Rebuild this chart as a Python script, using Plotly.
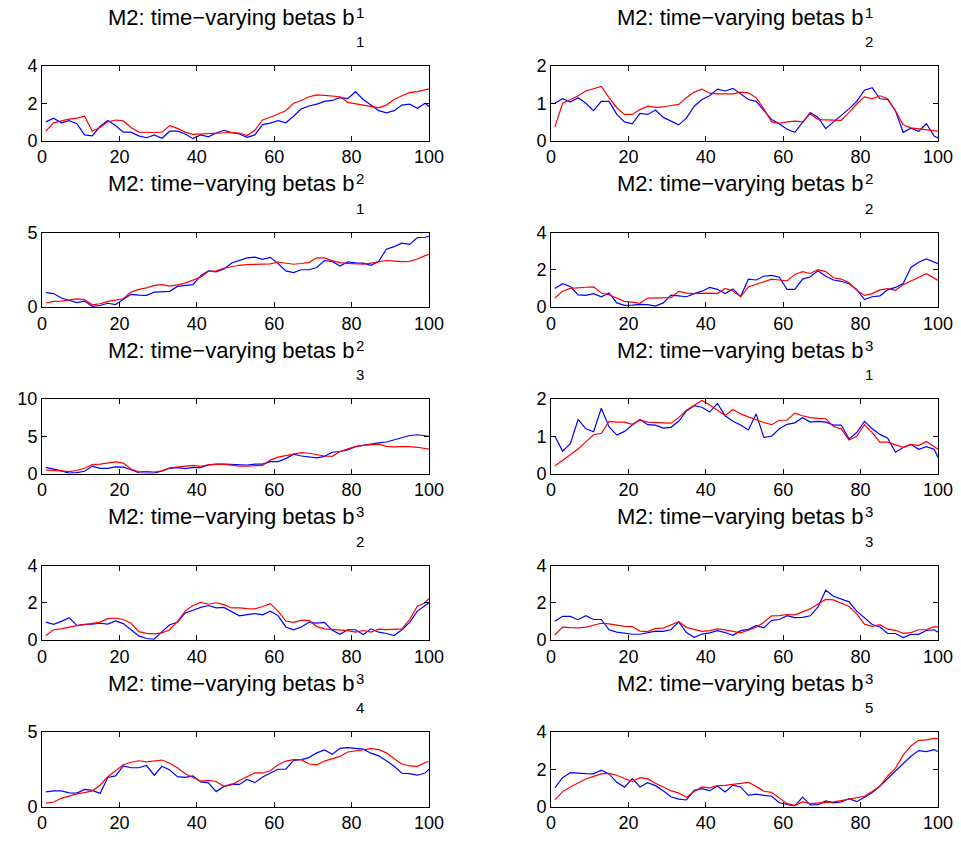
import plotly.graph_objects as go

# ---------------- data ----------------
x = list(range(1, 100, 2)) + [100]

blue_b11 = [1.0,1.2,0.95,1.07,0.9,0.3,0.25,0.75,1.07,0.8, 0.45,0.45,0.25,0.15,0.3,0.12,0.5,0.5,0.35,0.1, 0.3,0.2,0.4,0.55,0.42,0.35,0.17,0.3,0.85,0.93, 1.07,0.95,1.3,1.7,1.85,1.95,2.1,2.15,2.3,2.25, 2.62,2.2,1.9,1.6,1.48,1.6,1.9,1.95,1.73,2.0, 1.82]
red_b11 = [0.5,0.95,1.05,1.15,1.2,1.3,0.5,0.7,1.0,1.1, 1.05,0.7,0.45,0.43,0.43,0.45,0.8,0.65,0.45,0.33, 0.35,0.4,0.4,0.42,0.43,0.4,0.27,0.55,1.1,1.25, 1.42,1.6,2.0,2.15,2.35,2.45,2.42,2.4,2.35,2.05, 1.97,1.9,1.82,1.75,1.9,2.2,2.4,2.57,2.62,2.72, 2.77]

blue_b21 = [1.0,1.12,1.03,1.15,1.0,0.8,1.05,1.05,0.7,0.5, 0.45,0.73,0.7,0.82,0.62,0.52,0.42,0.6,0.92,1.1, 1.2,1.38,1.33,1.4,1.25,1.1,1.05,0.8,0.56,0.45, 0.3,0.22,0.5,0.75,0.62,0.32,0.5,0.67,0.85,1.05, 1.35,1.42,1.12,1.1,0.8,0.22,0.33,0.25,0.45,0.12, 0.07]
red_b21 = [0.36,1.0,1.1,1.2,1.33,1.38,1.45,1.15,0.88,0.7, 0.7,0.83,0.92,0.89,0.9,0.94,0.97,1.15,1.3,1.38, 1.27,1.25,1.24,1.25,1.3,1.28,1.15,0.85,0.5,0.46, 0.5,0.52,0.5,0.72,0.56,0.55,0.55,0.54,0.75,0.98, 1.17,1.12,1.2,1.12,0.8,0.42,0.34,0.32,0.28,0.26, 0.25]

blue_b12 = [0.96,0.9,0.6,0.45,0.3,0.4,0.05,0.1,0.25,0.16, 0.5,0.85,0.8,0.78,1.0,1.05,1.05,1.38,1.42,1.5, 2.1,2.42,2.35,2.55,2.95,3.12,3.3,3.35,3.2,3.33, 2.91,2.42,2.31,2.5,2.5,2.65,3.12,3.05,2.75,3.03, 2.96,2.95,2.8,3.07,3.88,4.05,4.28,4.2,4.66,4.68, 4.75]
red_b12 = [0.27,0.38,0.4,0.5,0.55,0.5,0.15,0.22,0.38,0.46, 0.55,1.0,1.18,1.28,1.45,1.5,1.4,1.48,1.6,1.8, 2.0,2.4,2.42,2.6,2.72,2.8,2.84,2.87,2.85,2.9, 3.02,2.95,2.87,2.92,3.0,3.3,3.3,3.1,2.98,2.93, 2.9,2.87,2.95,3.05,3.12,3.08,3.04,3.06,3.22,3.45, 3.54]

blue_b22 = [0.99,1.25,1.1,0.65,0.62,0.72,0.55,0.75,0.22,0.09, 0.1,0.14,0.13,0.05,0.22,0.64,0.6,0.55,0.72,0.85, 1.05,0.95,0.72,0.97,0.56,1.49,1.45,1.65,1.7,1.6, 0.95,0.95,1.5,1.62,1.95,1.65,1.45,1.38,1.25,0.95, 0.4,0.55,0.6,0.92,1.05,1.26,2.12,2.4,2.58,2.4, 2.33]
red_b22 = [0.48,0.85,1.0,1.04,1.06,1.08,0.75,0.66,0.48,0.3, 0.26,0.2,0.48,0.48,0.46,0.5,0.84,0.75,0.72,0.75, 0.75,0.72,1.0,0.86,0.55,1.08,1.22,1.38,1.5,1.45, 1.4,1.75,1.9,1.8,2.0,1.9,1.57,1.5,1.3,0.9, 0.62,0.72,0.92,0.99,0.9,1.2,1.4,1.6,1.79,1.55, 1.43]

blue_b32 = [0.82,0.6,0.35,0.05,0.12,0.3,1.0,0.7,0.68,0.9, 0.85,0.5,0.1,0.05,0.05,0.35,0.7,0.8,0.65,0.82, 0.8,1.15,1.27,1.27,1.2,1.14,1.14,1.27,1.27,1.6, 1.6,2.0,2.6,2.35,2.2,2.1,2.3,2.85,2.95,3.15, 3.6,3.8,3.9,4.1,4.23,4.55,4.8,5.1,5.2,5.0, 5.0]
red_b32 = [0.45,0.45,0.35,0.25,0.4,0.7,1.2,1.27,1.4,1.55, 1.4,0.6,0.22,0.3,0.2,0.35,0.75,0.9,1.05,1.1, 0.95,1.15,1.23,1.23,1.12,1.0,1.0,1.0,1.1,1.8, 2.2,2.4,2.6,2.8,2.72,2.55,2.35,2.3,2.95,3.3, 3.6,3.78,3.87,3.95,3.65,3.57,3.6,3.62,3.52,3.35, 3.27]

blue_b13 = [1.0,0.6,0.8,1.45,1.2,1.12,1.75,1.25,1.03,1.13, 1.3,1.45,1.31,1.3,1.22,1.24,1.4,1.68,1.82,1.78, 1.65,1.88,1.55,1.4,1.3,1.17,1.6,0.97,1.0,1.2, 1.32,1.36,1.5,1.38,1.4,1.38,1.3,1.3,0.93,1.1, 1.4,1.2,1.05,0.95,0.57,0.7,0.78,0.65,0.72,0.65, 0.43]
red_b13 = [0.2,0.36,0.5,0.66,0.85,1.04,1.08,1.4,1.38,1.38, 1.32,1.43,1.38,1.38,1.36,1.35,1.5,1.7,1.84,1.96, 1.84,1.7,1.56,1.72,1.6,1.52,1.44,1.37,1.31,1.43, 1.43,1.62,1.55,1.5,1.48,1.47,1.26,1.2,0.9,1.0, 1.31,1.1,0.84,0.84,0.77,0.7,0.78,0.75,0.86,0.72, 0.65]

blue_b23 = [0.96,0.84,1.0,1.2,0.78,0.84,0.85,0.9,0.85,1.02, 0.88,0.55,0.22,0.08,0.04,0.45,0.82,0.95,1.45,1.6, 1.75,1.85,1.73,1.75,1.52,1.3,1.36,1.42,1.35,1.55, 1.31,0.7,0.55,0.7,0.95,0.91,0.95,0.52,0.31,0.55, 0.55,0.3,0.6,0.42,0.35,0.24,0.55,0.95,1.55,1.85, 2.0]
red_b23 = [0.24,0.55,0.6,0.7,0.77,0.83,0.9,0.96,1.15,1.18, 1.1,0.9,0.45,0.36,0.33,0.38,0.55,1.0,1.55,1.85, 2.02,1.92,2.0,1.9,1.72,1.73,1.68,1.67,1.8,1.95, 1.55,1.02,0.95,1.05,1.05,0.72,0.6,0.57,0.53,0.5, 0.42,0.51,0.42,0.58,0.56,0.56,0.6,1.1,1.82,2.0, 2.24]

blue_b33 = [1.0,1.27,1.27,1.09,1.3,1.1,1.1,0.55,0.42,0.35, 0.31,0.31,0.38,0.48,0.46,0.55,0.97,0.4,0.15,0.32, 0.38,0.5,0.4,0.25,0.5,0.57,0.77,0.65,1.05,1.1, 1.31,1.2,1.22,1.3,1.78,2.67,2.35,2.2,2.05,1.55, 1.18,0.83,0.7,0.35,0.35,0.13,0.3,0.3,0.51,0.55, 0.42]
red_b33 = [0.27,0.69,0.66,0.65,0.69,0.8,0.9,0.87,0.8,0.73, 0.72,0.48,0.45,0.62,0.64,0.8,0.98,0.68,0.56,0.46, 0.5,0.6,0.54,0.45,0.38,0.52,0.68,0.95,1.3,1.31, 1.37,1.35,1.5,1.67,1.93,2.18,2.15,1.97,1.8,1.4, 0.85,0.73,0.82,0.58,0.52,0.36,0.4,0.55,0.55,0.72, 0.69]

blue_b43 = [0.98,1.05,1.05,0.92,0.9,1.15,1.08,0.88,1.95,2.05, 2.73,2.6,2.6,2.75,2.1,2.7,2.45,2.0,1.95,2.05, 1.65,1.59,1.0,1.35,1.5,1.48,1.82,1.6,1.98,2.25, 2.5,2.5,3.09,3.15,3.28,3.6,3.8,3.5,3.9,3.95, 3.9,3.85,3.58,3.4,3.07,2.7,2.23,2.2,2.1,2.25, 2.5]
red_b43 = [0.23,0.3,0.55,0.7,0.85,0.93,1.05,1.43,2.0,2.4, 2.8,2.97,3.07,3.0,3.07,3.12,2.9,2.6,2.2,1.93, 1.7,1.75,1.68,1.35,1.45,1.75,2.0,2.25,2.25,2.4, 2.8,3.05,3.14,3.14,2.85,2.8,3.05,3.2,3.36,3.66, 3.72,3.82,3.88,3.82,3.6,3.2,2.85,2.72,2.7,2.95, 3.02]

blue_b53 = [1.0,1.55,1.82,1.78,1.76,1.75,1.95,1.75,1.3,1.04, 1.5,1.05,1.28,1.12,0.85,0.52,0.4,0.35,0.87,0.96, 0.85,1.1,0.78,1.15,1.05,0.6,0.66,0.6,0.55,0.2, 0.1,0.02,0.5,0.08,0.1,0.3,0.2,0.25,0.42,0.26, 0.5,0.75,1.1,1.5,1.88,2.27,2.7,3.0,2.95,3.05, 2.95]
red_b53 = [0.36,0.8,1.05,1.28,1.48,1.62,1.75,1.78,1.68,1.5, 1.35,1.55,1.48,1.25,1.07,0.85,0.72,0.5,0.8,1.05, 1.0,1.12,1.13,1.18,1.25,1.3,1.08,0.82,0.76,0.45, 0.15,0.06,0.25,0.15,0.18,0.22,0.25,0.32,0.4,0.45, 0.55,0.8,1.1,1.64,2.05,2.76,3.25,3.55,3.58,3.66, 3.64]

# panel order: row by row, left then right
blue_series = [blue_b11, blue_b21, blue_b12, blue_b22, blue_b32, blue_b13, blue_b23, blue_b33, blue_b43, blue_b53]
red_series = [red_b11, red_b21, red_b12, red_b22, red_b32, red_b13, red_b23, red_b33, red_b43, red_b53]
sup_labels = ["1", "1", "2", "2", "2", "3", "3", "3", "3", "3"]
sub_labels = ["1", "2", "1", "2", "3", "1", "2", "3", "4", "5"]
y_max = [4, 2, 5, 4, 10, 2, 4, 4, 5, 4]
y_ticks = [[0, 2, 4], [0, 1, 2], [0, 5], [0, 2, 4], [0, 5, 10], [0, 1, 2], [0, 2, 4], [0, 2, 4], [0, 5], [0, 2, 4]]
x_ticks = [0, 20, 40, 60, 80, 100]
title_main = "M2: time\u2212varying betas b"

# ---------------- layout geometry (page pixels) ----------------
W, H = 961, 846
col_px = [(42, 429), (551, 938)]
row_top = [66 + 166.5 * i for i in range(5)]
ax_h = 74.5
FONT = "Liberation Sans, Arial, Helvetica, sans-serif"


def px_x(p):
    return p / W


def px_y(p):
    return 1 - p / H


fig = go.Figure()
layout = dict(
    template="none",
    width=W, height=H,
    margin=dict(l=0, r=0, t=0, b=0, pad=0, autoexpand=False),
    paper_bgcolor="white", plot_bgcolor="white",
    showlegend=False,
    font=dict(family=FONT, size=18, color="black"),
)
annotations = []

for i in range(10):
    r, c = divmod(i, 2)
    n = i + 1
    xa = "x" if n == 1 else f"x{n}"
    ya = "y" if n == 1 else f"y{n}"
    fig.add_trace(go.Scatter(x=x, y=blue_series[i], mode="lines",
                             line=dict(color="rgb(0,0,255)", width=1.2),
                             xaxis=xa, yaxis=ya, hoverinfo="skip"))
    fig.add_trace(go.Scatter(x=x, y=red_series[i], mode="lines",
                             line=dict(color="rgb(255,0,0)", width=1.2),
                             xaxis=xa, yaxis=ya, hoverinfo="skip"))
    x0, x1 = col_px[c]
    top = row_top[r]
    bot = top + ax_h
    common = dict(showline=True, linecolor="black", linewidth=1, mirror="ticks",
                  ticks="inside", ticklen=5, tickcolor="black", tickwidth=1,
                  showgrid=False, zeroline=False, automargin=False,
                  tickfont=dict(family=FONT, size=18, color="black"))
    layout["xaxis" if n == 1 else f"xaxis{n}"] = dict(
        domain=[px_x(x0), px_x(x1)], range=[0, 100], tickvals=x_ticks,
        anchor=ya, **common)
    layout["yaxis" if n == 1 else f"yaxis{n}"] = dict(
        domain=[px_y(bot), px_y(top)], range=[0, y_max[i]],
        tickvals=y_ticks[i], anchor=xa, **common)

    # title: main text + stacked super/subscript
    center = (x0 + x1) / 2
    xb = center + 120
    annotations.append(dict(xref="paper", yref="paper", x=px_x(xb), y=px_y(top - 48.6),
                            xanchor="right", yanchor="middle", showarrow=False,
                            text=title_main, font=dict(family=FONT, size=22, color="black")))
    annotations.append(dict(xref="paper", yref="paper", x=px_x(xb - 2), y=px_y(top - 54),
                            xanchor="left", yanchor="middle", showarrow=False,
                            text=sup_labels[i], font=dict(family=FONT, size=15, color="black")))
    annotations.append(dict(xref="paper", yref="paper", x=px_x(xb - 2), y=px_y(top - 24.5),
                            xanchor="left", yanchor="middle", showarrow=False,
                            text=sub_labels[i], font=dict(family=FONT, size=15, color="black")))

layout["annotations"] = annotations
fig.update_layout(**layout)
fig.write_html(
    "out.html",
    config={"displayModeBar": False, "staticPlot": True},
    post_script="document.body.style.margin='0px';document.body.style.overflow='hidden';",
)
